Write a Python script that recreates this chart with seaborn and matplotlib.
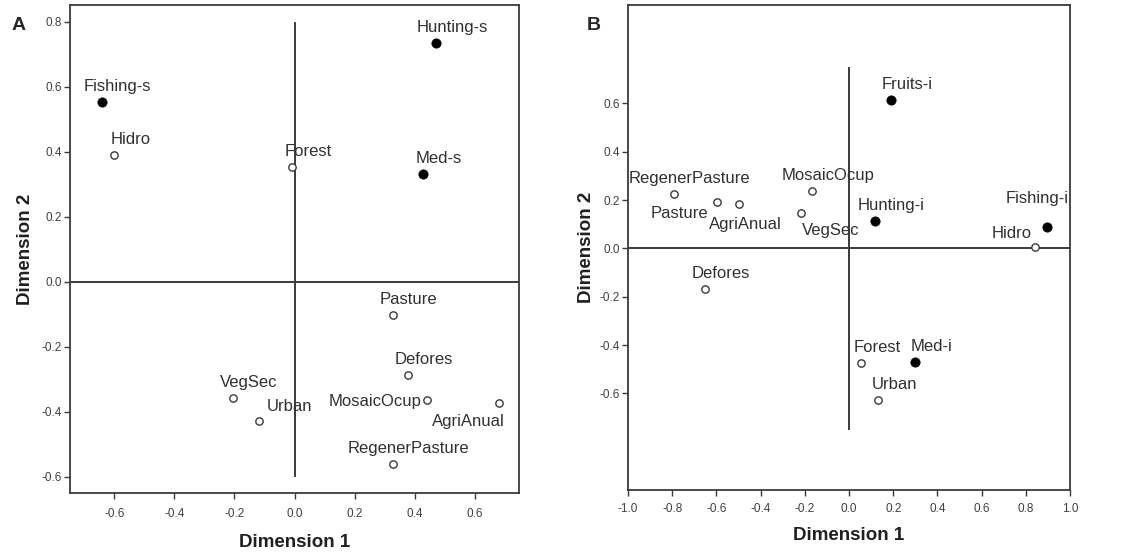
import matplotlib
matplotlib.use("Agg")
import matplotlib.pyplot as plt
import seaborn as sns
import pandas as pd

# ---------------- data ----------------
a_labels = ["Hunting-s", "Fishing-s", "Med-s", "Hidro", "Forest", "Pasture", "Defores",
            "VegSec", "Urban", "MosaicOcup", "AgriAnual", "RegenerPasture"]
a_x = [0.471, -0.642, 0.427, -0.600, -0.007, 0.327, 0.377, -0.205, -0.118, 0.443, 0.680, 0.327]
a_y = [0.734, 0.552, 0.332, 0.391, 0.352, -0.102, -0.288, -0.358, -0.427, -0.363, -0.373, -0.561]
a_filled = [True, True, True, False, False, False, False, False, False, False, False, False]

b_labels = ["Fruits-i", "Hunting-i", "Fishing-i", "Med-i", "RegenerPasture", "Pasture", "AgriAnual",
            "MosaicOcup", "VegSec", "Hidro", "Defores", "Forest", "Urban"]
b_x = [0.190, 0.118, 0.894, 0.299, -0.794, -0.599, -0.497, -0.166, -0.217, 0.843, -0.652, 0.054, 0.133]
b_y = [0.614, 0.113, 0.089, -0.469, 0.223, 0.190, 0.185, 0.236, 0.145, 0.004, -0.170, -0.476, -0.628]
b_filled = [True, True, True, True, False, False, False, False, False, False, False, False, False]

a_ticks_x = [-0.6, -0.4, -0.2, 0.0, 0.2, 0.4, 0.6]
a_ticks_y = [-0.6, -0.4, -0.2, 0.0, 0.2, 0.4, 0.6, 0.8]
b_ticks_x = [-1.0, -0.8, -0.6, -0.4, -0.2, 0.0, 0.2, 0.4, 0.6, 0.8, 1.0]
b_ticks_y = [-0.6, -0.4, -0.2, 0.0, 0.2, 0.4, 0.6]

# label offsets (pixels) relative to the point; default above-right
default_off = (16, 11)
a_off = {"Urban": (30, 10), "MosaicOcup": (-52, -6), "AgriAnual": (-30, -23)}
b_off = {"Pasture": (-37, -16), "AgriAnual": (6, -25), "VegSec": (30, -22),
         "Fishing-i": (-9, 24), "Hidro": (-24, 9)}

# ---------------- style ----------------
sns.set_style("white")
plt.rcParams["font.family"] = ["Liberation Sans", "DejaVu Sans"]
dark = "#3a3a3a"

fig = plt.figure(figsize=(11.31, 5.53), dpi=100)
axA = fig.add_axes([70 / 1131, 1 - 493 / 553, 449 / 1131, 488 / 553])
axB = fig.add_axes([628 / 1131, 1 - 490 / 553, 442 / 1131, 485 / 553])


def draw(ax, labels, xs, ys, filled, offs, xlim, ylim, xt, yt, vline, xpad, xlpad, ylpad):
    df = pd.DataFrame({"label": labels, "x": xs, "y": ys, "filled": filled})
    ax.axhline(0, color=dark, lw=1.4, zorder=1)
    ax.vlines(0, vline[0], vline[1], color=dark, lw=1.4, zorder=1)
    sns.scatterplot(data=df[df["filled"]], x="x", y="y", ax=ax, s=45, color="black",
                    edgecolor="black", linewidth=0.5, zorder=3, legend=False)
    sns.scatterplot(data=df[~df["filled"]], x="x", y="y", ax=ax, s=28, facecolor="white",
                    edgecolor=dark, linewidth=1.0, zorder=3, legend=False)
    for _, r in df.iterrows():
        dx, dy = offs.get(r["label"], default_off)
        ax.annotate(r["label"], (r["x"], r["y"]), xytext=(dx, dy), textcoords="offset pixels",
                    ha="center", va="baseline", fontsize=12, color="#303030", zorder=4)
    ax.set_xlim(*xlim)
    ax.set_ylim(*ylim)
    ax.set_xticks(xt)
    ax.set_yticks(yt)
    ax.set_xticklabels([f"{v:.1f}" for v in xt])
    ax.set_yticklabels([f"{v:.1f}" for v in yt])
    ax.tick_params(axis="both", which="both", direction="out", length=4, width=1.0,
                   color=dark, labelsize=8.5, labelcolor="#404040", bottom=True, left=True,
                   top=False, right=False, pad=2)
    ax.tick_params(axis="x", pad=xpad)
    for sp in ax.spines.values():
        sp.set_visible(True)
        sp.set_color(dark)
        sp.set_linewidth(1.3)
    ax.set_xlabel("Dimension 1", fontsize=13.5, fontweight="bold", color="#202020", labelpad=xlpad)
    ax.set_ylabel("Dimension 2", fontsize=13.5, fontweight="bold", color="#202020", labelpad=ylpad)
    ax.grid(False)


draw(axA, a_labels, a_x, a_y, a_filled, a_off, (-0.748, 0.748), (-0.65, 0.852),
     a_ticks_x, a_ticks_y, (-0.6, 0.8), 7, 10, 5)
draw(axB, b_labels, b_x, b_y, b_filled, b_off, (-1.0, 1.0), (-1.0, 1.007),
     b_ticks_x, b_ticks_y, (-0.75, 0.75), 5, 9, 3)

fig.text(12 / 1131, 1 - 25 / 553, "A", fontsize=14, fontweight="bold", va="center", ha="left")
fig.text(587 / 1131, 1 - 25 / 553, "B", fontsize=14, fontweight="bold", va="center", ha="left")

fig.savefig("out.png", dpi=100, facecolor="white")
